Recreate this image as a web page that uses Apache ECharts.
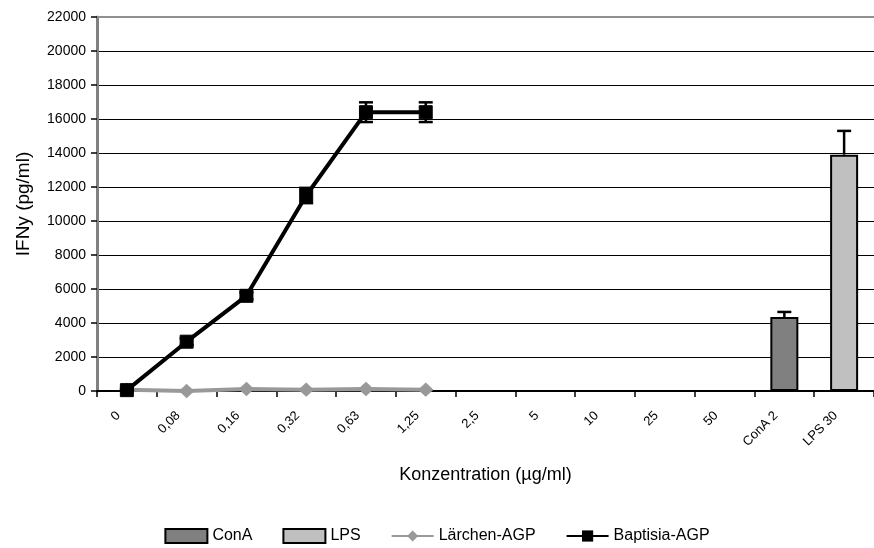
<!DOCTYPE html>
<html>
<head>
<meta charset="utf-8">
<script src="https://cdn.jsdelivr.net/npm/echarts@6/dist/echarts.min.js"></script>
<style>
html,body{margin:0;padding:0;background:#fff;}
#chart{width:874px;height:548px;}
</style>
</head>
<body>
<div id="chart"></div>
<script>
const categories = ['0','0,08','0,16','0,32','0,63','1,25','2,5','5','10','25','50','ConA 2','LPS 30'];
const baptisiaValues = [50, 2900, 5600, 11500, 16400, 16400, null, null, null, null, null, null, null];
const baptisiaErrors = [100, 200, 200, 450, 580, 580, null, null, null, null, null, null, null];
const laerchenValues = [80, 0, 120, 80, 120, 80, null, null, null, null, null, null, null];
const conAValues = [null, null, null, null, null, null, null, null, null, null, null, 4350, null];
const conAErrors = [null, null, null, null, null, null, null, null, null, null, null, 300, null];
const lpsValues = [null, null, null, null, null, null, null, null, null, null, null, null, 13900];
const lpsErrors = [null, null, null, null, null, null, null, null, null, null, null, null, 1400];
const yTicks = [0, 2000, 4000, 6000, 8000, 10000, 12000, 14000, 16000, 18000, 20000, 22000];

const FONT = 'Liberation Sans, Arial, sans-serif';

function errData(vals, errs) {
  const out = [];
  vals.forEach((v, i) => {
    if (v != null && errs[i] != null) out.push([i, v, errs[i]]);
  });
  return out;
}

function errRender(upperOnly, capHalf) {
  return function (params, api) {
    const i = api.value(0), v = api.value(1), e = api.value(2);
    const top = api.coord([i, v + e]);
    const mid = api.coord([i, v]);
    const bot = api.coord([i, Math.max(0, v - e)]);
    const st = {stroke: '#000', lineWidth: 2.5};
    const children = [
      {type: 'line', shape: {x1: top[0], y1: top[1], x2: upperOnly ? mid[0] : bot[0], y2: upperOnly ? mid[1] : bot[1]}, style: st},
      {type: 'line', shape: {x1: top[0] - capHalf, y1: top[1], x2: top[0] + capHalf, y2: top[1]}, style: st}
    ];
    if (!upperOnly) children.push({type: 'line', shape: {x1: bot[0] - capHalf, y1: bot[1], x2: bot[0] + capHalf, y2: bot[1]}, style: st});
    return {type: 'group', children: children};
  };
}

const chart = echarts.init(document.getElementById('chart'), null, {renderer: 'canvas'});
chart.setOption({
  animation: false,
  backgroundColor: '#fff',
  textStyle: {fontFamily: FONT},
  grid: {left: 97, top: 17, right: -10, bottom: 157, containLabel: false},
  legend: {
    left: 'center', top: 523,
    itemWidth: 42, itemHeight: 14, itemGap: 30,
    textStyle: {fontFamily: FONT, fontSize: 16, color: '#000'},
    data: [
      {name: 'ConA', icon: 'rect'},
      {name: 'LPS', icon: 'rect'},
      {name: 'Lärchen-AGP'},
      {name: 'Baptisia-AGP'}
    ]
  },
  xAxis: {
    type: 'category',
    data: categories,
    boundaryGap: true,
    name: 'Konzentration (µg/ml)',
    nameLocation: 'middle', nameGap: 75,
    nameTextStyle: {fontFamily: FONT, fontSize: 18, color: '#000'},
    axisLine: {lineStyle: {color: '#000', width: 2}},
    axisTick: {show: true, inside: false, length: 6, lineStyle: {color: '#000', width: 1.5}},
    axisLabel: {rotate: 45, fontSize: 13, color: '#000', margin: 14, padding: [0, 12, 0, 0], fontFamily: FONT, interval: 0},
    splitLine: {show: false},
    z: 5
  },
  yAxis: {
    type: 'value',
    min: 0, max: 22000, interval: 2000,
    name: 'IFNy (pg/ml)',
    nameLocation: 'middle', nameGap: 64,
    nameTextStyle: {fontFamily: FONT, fontSize: 19, color: '#000'},
    axisLine: {show: true, lineStyle: {color: '#808080', width: 3}},
    axisTick: {show: true, length: 6, lineStyle: {color: '#000', width: 1.5}},
    axisLabel: {fontSize: 14, color: '#000', margin: 11, fontFamily: FONT,
      formatter: function (v) { return yTicks.indexOf(v) >= 0 ? String(v) : ''; }},
    splitLine: {show: true, lineStyle: {color: '#000', width: 1.2}}
  },
  graphic: [{
    type: 'line', z: 10,
    shape: {x1: 97, y1: 17, x2: 874, y2: 17},
    style: {stroke: '#909090', lineWidth: 2}
  }],
  series: [
    {
      name: 'ConA', type: 'bar', data: conAValues, barWidth: 28, barGap: '-100%',
      itemStyle: {color: '#808080', borderColor: '#000', borderWidth: 2}, z: 3
    },
    {
      name: 'LPS', type: 'bar', data: lpsValues, barWidth: 28, barGap: '-100%',
      itemStyle: {color: '#c0c0c0', borderColor: '#000', borderWidth: 2}, z: 3
    },
    {
      name: 'Lärchen-AGP', type: 'line', data: laerchenValues,
      symbol: 'diamond', symbolSize: [14, 13],
      lineStyle: {color: '#999999', width: 4},
      itemStyle: {color: '#999999', borderColor: '#999999'}, z: 6
    },
    {
      name: 'Baptisia-AGP', type: 'line', data: baptisiaValues,
      symbol: 'rect', symbolSize: 13,
      lineStyle: {color: '#000', width: 4},
      itemStyle: {color: '#000', borderColor: '#000'}, z: 7
    },
    {
      name: 'errBaptisia', type: 'custom', data: errData(baptisiaValues, baptisiaErrors),
      renderItem: errRender(false, 7), z: 8, silent: true
    },
    {
      name: 'errBars', type: 'custom', data: errData(conAValues, conAErrors).concat(errData(lpsValues, lpsErrors)),
      renderItem: errRender(true, 7), z: 2, silent: true
    }
  ]
});
</script>
</body>
</html>
